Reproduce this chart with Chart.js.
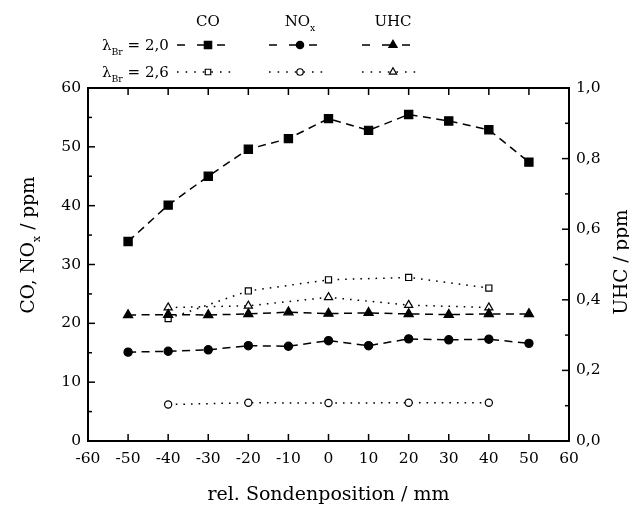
<!DOCTYPE html>
<html>
<head>
<meta charset="utf-8">
<script src="https://cdn.jsdelivr.net/npm/chart.js@4/dist/chart.umd.min.js"></script>
<style>
html,body{margin:0;padding:0;background:#fff;}
#wrap{width:629px;height:507px;position:relative;}
</style>
</head>
<body>
<div id="wrap"><canvas id="c" width="629" height="507"></canvas></div>
<script>
// ---- data ----
const xPos = [-50, -40, -30, -20, -10, 0, 10, 20, 30, 40, 50];
const xPosSparse = [-40, -20, 0, 20, 40];
const co20  = [33.9, 40.1, 45.0, 49.6, 51.4, 54.8, 52.8, 55.5, 54.4, 52.9, 47.4];
const nox20 = [15.1, 15.25, 15.5, 16.2, 16.1, 17.05, 16.2, 17.35, 17.2, 17.3, 16.6];
const uhc20 = [0.357, 0.358, 0.357, 0.360, 0.365, 0.361, 0.363, 0.360, 0.358, 0.360, 0.360];
const co26  = [20.8, 25.5, 27.4, 27.8, 26.0];
const nox26 = [6.2, 6.5, 6.45, 6.5, 6.5];
const uhc26 = [0.378, 0.383, 0.407, 0.385, 0.378];

const xTicks = [-60, -50, -40, -30, -20, -10, 0, 10, 20, 30, 40, 50, 60];
const xTickLabels = ['-60','-50','-40','-30','-20','-10','0','10','20','30','40','50','60'];
const yLeftTicks = [0, 10, 20, 30, 40, 50, 60];
const yLeftTickLabels = ['0','10','20','30','40','50','60'];
const yLeftMinor = [5, 15, 25, 35, 45, 55];
const yRightTicks = [0, 0.2, 0.4, 0.6, 0.8, 1.0];
const yRightTickLabels = ['0,0','0,2','0,4','0,6','0,8','1,0'];
const yRightMinor = [0.1, 0.3, 0.5, 0.7, 0.9];

const seriesNames = ['CO', 'NOx', 'UHC'];
const rowLabels = ['2,0', '2,6'];

const FONT = "'DejaVu Serif', 'Liberation Serif', serif";
const pts = (xs, ys) => xs.map((x, i) => ({x: x, y: ys[i]}));

const DASH = [8, 5.5];
const DOT = [1.6, 6];

const datasets = [
  {label:'CO 2,0', data: pts(xPos, co20), yAxisID:'y', borderDash: DASH, pointStyle:'rect', pointRadius:5.8, pointBackgroundColor:'#000', row:0, col:0},
  {label:'NOx 2,0', data: pts(xPos, nox20), yAxisID:'y', borderDash: DASH, pointStyle:'circle', pointRadius:4.1, pointBackgroundColor:'#000', row:0, col:1},
  {label:'UHC 2,0', data: pts(xPos, uhc20), yAxisID:'y1', borderDash: DASH, pointStyle:'triangle', pointRadius:5.3, pointBackgroundColor:'#000', row:0, col:2},
  {label:'CO 2,6', data: pts(xPosSparse, co26), yAxisID:'y', borderDash: DOT, pointStyle:'rect', pointRadius:4.3, pointBackgroundColor:'#fff', row:1, col:0},
  {label:'NOx 2,6', data: pts(xPosSparse, nox26), yAxisID:'y', borderDash: DOT, pointStyle:'circle', pointRadius:3.6, pointBackgroundColor:'#fff', row:1, col:1},
  {label:'UHC 2,6', data: pts(xPosSparse, uhc26), yAxisID:'y1', borderDash: DOT, pointStyle:'triangle', pointRadius:4.7, pointBackgroundColor:'#fff', row:1, col:2}
].map(d => Object.assign({
  borderColor:'#000', borderWidth:1.5, pointBorderColor:'#000', pointBorderWidth:1.2,
  pointHoverRadius: d.pointRadius, showLine:true, fill:false, tension:0
}, d));

function drawRich(ctx, parts, x, y, size, align) {
  let w = 0;
  parts.forEach(p => { ctx.font = (p.sub ? size*0.62 : size) + 'px ' + FONT; p.w = ctx.measureText(p.t).width; w += p.w; });
  let cx = align === 'center' ? x - w/2 : (align === 'right' ? x - w : x);
  ctx.textBaseline = 'alphabetic'; ctx.textAlign = 'left';
  parts.forEach(p => {
    ctx.font = (p.sub ? size*0.62 : size) + 'px ' + FONT;
    ctx.fillText(p.t, cx, p.sub ? y + size*0.3 : y);
    cx += p.w;
  });
}

const decor = {
  id:'decor',
  afterDraw(chart) {
    const ctx = chart.ctx;
    const {left, right, top, bottom} = chart.chartArea;
    const sx = chart.scales.x, sy = chart.scales.y, sy1 = chart.scales.y1;
    ctx.save();
    ctx.strokeStyle = '#000'; ctx.fillStyle = '#000';
    ctx.setLineDash([]);
    ctx.lineWidth = 1.5;
    const ln = (a,b,c,d) => { ctx.beginPath(); ctx.moveTo(a,b); ctx.lineTo(c,d); ctx.stroke(); };
    xTicks.forEach(v => { const p = sx.getPixelForValue(v); ln(p, bottom, p, bottom-7); ln(p, top, p, top+7); });
    yLeftTicks.forEach(v => { const p = sy.getPixelForValue(v); ln(left, p, left+7, p); });
    yLeftMinor.forEach(v => { const p = sy.getPixelForValue(v); ln(left, p, left+4, p); });
    yRightTicks.forEach(v => { const p = sy1.getPixelForValue(v); ln(right, p, right-7, p); });
    yRightMinor.forEach(v => { const p = sy1.getPixelForValue(v); ln(right, p, right-4, p); });
    ctx.lineWidth = 2;
    ctx.strokeRect(left, top, right-left, bottom-top);

    // axis titles
    drawRich(ctx, [{t:'rel. Sondenposition / mm'}], (left+right)/2, 500, 19, 'center');
    ctx.save(); ctx.translate(34, 245); ctx.rotate(-Math.PI/2);
    drawRich(ctx, [{t:'CO, NO'},{t:'x',sub:true},{t:' / ppm'}], 0, 0, 18.5, 'center');
    ctx.restore();
    ctx.save(); ctx.translate(627, 262); ctx.rotate(-Math.PI/2);
    drawRich(ctx, [{t:'UHC / ppm'}], 0, 0, 18.5, 'center');
    ctx.restore();

    // legend
    const colX = [208, 300, 393];
    const rowY = [45, 72];
    drawRich(ctx, [{t:'CO'}], colX[0], 26, 15, 'center');
    drawRich(ctx, [{t:'NO'},{t:'x',sub:true}], colX[1], 26, 15, 'center');
    drawRich(ctx, [{t:'UHC'}], colX[2], 26, 15, 'center');
    rowLabels.forEach((r, i) => {
      drawRich(ctx, [{t:'\u03bb'},{t:'Br',sub:true},{t:' = ' + r}], 102, rowY[i] + 5, 15, 'left');
    });
    chart.data.datasets.forEach(ds => {
      const x = colX[ds.col], y = rowY[ds.row];
      ctx.lineWidth = ds.borderWidth;
      ctx.setLineDash(ds.row === 0 ? [8, 12] : [1.6, 7]);
      ln(x - 31, y, x + 25, y);
      ctx.setLineDash([]);
      ctx.fillStyle = ds.pointBackgroundColor; ctx.strokeStyle = '#000';
      ctx.lineWidth = ds.pointBorderWidth;
      Chart.helpers.drawPoint(ctx, {pointStyle: ds.pointStyle, radius: ds.pointRadius*0.9, rotation:0, borderWidth: ds.pointBorderWidth}, x, y);
    });
    ctx.restore();
  }
};

new Chart(document.getElementById('c'), {
  type:'scatter',
  data:{datasets},
  options:{
    responsive:false, animation:false,
    layout:{padding:{top:88, left:0, right:0, bottom:0}},
    plugins:{legend:{display:false}, tooltip:{enabled:false}},
    scales:{
      x:{type:'linear', position:'bottom', min:-60, max:60,
         afterBuildTicks: s => { s.ticks = xTicks.map(v => ({value:v})); },
         ticks:{color:'#000', font:{family:FONT, size:15.5}, padding:9, maxRotation:0, autoSkip:false,
                callback:(v) => xTickLabels[xTicks.indexOf(v)]},
         grid:{display:false, drawTicks:false}, border:{display:false},
         afterFit: s => { s.height = 66; }},
      y:{type:'linear', position:'left', min:0, max:60,
         afterBuildTicks: s => { s.ticks = yLeftTicks.map(v => ({value:v})); },
         ticks:{color:'#000', font:{family:FONT, size:15.5}, padding:7,
                callback:(v) => yLeftTickLabels[yLeftTicks.indexOf(v)]},
         grid:{display:false, drawTicks:false}, border:{display:false},
         afterFit: s => { s.width = 88; }},
      y1:{type:'linear', position:'right', min:0, max:1,
         afterBuildTicks: s => { s.ticks = yRightTicks.map(v => ({value:v})); },
         ticks:{color:'#000', font:{family:FONT, size:15.5}, padding:7,
                callback:(v) => yRightTickLabels[yRightTicks.findIndex(t => Math.abs(t - v) < 1e-9)]},
         grid:{display:false, drawTicks:false}, border:{display:false},
         afterFit: s => { s.width = 60; }}
    }
  },
  plugins:[decor]
});
</script>
</body>
</html>
